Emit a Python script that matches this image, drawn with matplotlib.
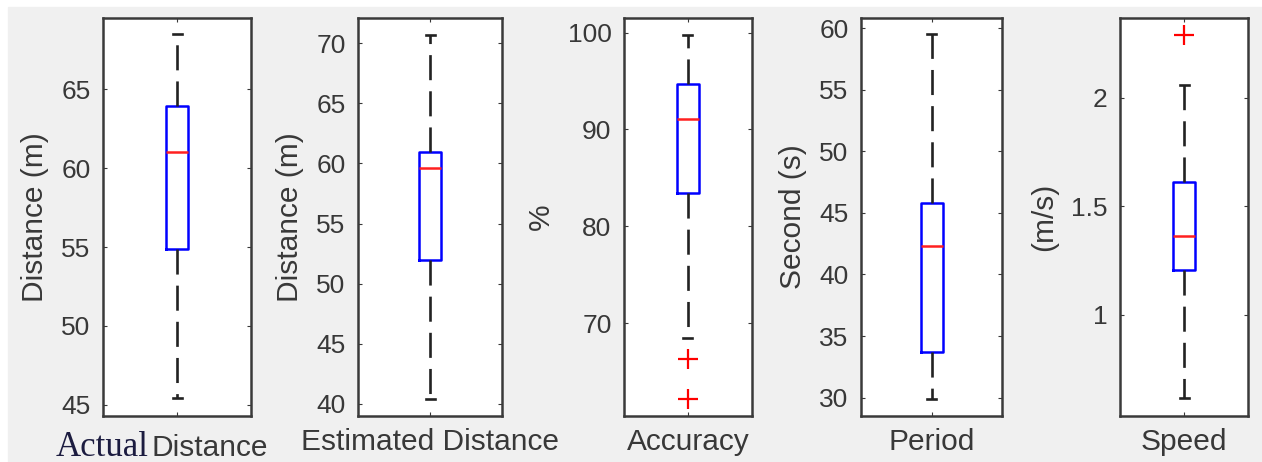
import matplotlib
matplotlib.use("Agg")
import matplotlib.pyplot as plt
from matplotlib.patches import Rectangle

# summary statistics for each measured quantity
categories = ["Distance", "Estimated Distance", "Accuracy", "Period", "Speed"]
ylabels = ["Distance (m)", "Distance (m)", "%", "Second (s)", "(m/s)"]
q1 = [54.9, 52.0, 83.4, 33.7, 1.207]
median = [61.0, 59.6, 91.1, 42.3, 1.365]
q3 = [63.9, 60.95, 94.7, 45.8, 1.613]
whisker_low = [45.45, 40.45, 68.5, 29.9, 0.62]
whisker_high = [68.5, 70.7, 99.7, 59.5, 2.058]
outliers = [[], [], [66.3, 62.2], [], [2.29]]

y_limits = [(44.3, 69.5), (39.0, 72.1), (60.4, 101.5), (28.5, 60.84), (0.535, 2.367)]
y_ticks = [[45, 50, 55, 60, 65], [40, 45, 50, 55, 60, 65, 70],
           [70, 80, 90, 100], [30, 35, 40, 45, 50, 55, 60], [1, 1.5, 2]]
y_ticklabels = [None, None, None, None, ["1", "1.5", "2"]]

plt.rcParams["font.family"] = ["Liberation Sans", "DejaVu Sans"]

W, H = 1262, 462
fig = plt.figure(figsize=(W / 100, H / 100), dpi=100, facecolor="white")
fig.patches.append(Rectangle((8 / W, 0), 1 - 8 / W, (H - 7) / H,
                             transform=fig.transFigure, color="#f0f0f0", zorder=-10))

# axes boxes in pixels: left, width
boxes_px = [(103, 148), (358, 144), (624, 128), (861, 141), (1120, 128)]
top_px, bottom_px = 18, 416

ink = "#383838"
for i, (x0, w) in enumerate(boxes_px):
    ax = fig.add_axes([x0 / W, (H - bottom_px) / H, w / W, (bottom_px - top_px) / H])
    ax.set_facecolor("white")
    stats = [dict(med=median[i], q1=q1[i], q3=q3[i],
                  whislo=whisker_low[i], whishi=whisker_high[i],
                  fliers=outliers[i], label=categories[i])]
    ax.bxp(stats, positions=[1], widths=22 / w, capwidths=9 / w, showfliers=True,
           boxprops=dict(color="#0000ff", linewidth=1.8),
           medianprops=dict(color="#ff2020", linewidth=1.8),
           whiskerprops=dict(color="#222222", linewidth=1.9, linestyle=(0, (9.5, 4.2))),
           capprops=dict(color="#222222", linewidth=1.9),
           flierprops=dict(marker="+", markeredgecolor="#ff0000", markersize=15,
                           markeredgewidth=1.6, linestyle="none"))
    ax.set_xlim(0.5, 1.5)
    ax.set_ylim(*y_limits[i])
    ax.set_yticks(y_ticks[i])
    if y_ticklabels[i] is not None:
        ax.set_yticklabels(y_ticklabels[i])
    ax.set_xticks([1])
    if i == 0:
        ax.set_xticklabels([""])
        ax.text(0.331, -0.1, categories[i], transform=ax.transAxes, ha="left",
                va="baseline", fontsize=21.5, color=ink)
        ax.text(0.31, -0.1, "Actual", transform=ax.transAxes, ha="right",
                va="baseline", fontsize=25, color="#1c1c40",
                family=["Liberation Serif", "DejaVu Serif"])
    else:
        ax.set_xticklabels([categories[i]])
    ax.tick_params(axis="x", direction="in", length=3, top=True, pad=9,
                   labelsize=21.5, labelcolor=ink, color=ink)
    ax.tick_params(axis="y", direction="in", length=3, right=True, pad=9,
                   labelsize=19, labelcolor=ink, color=ink)
    ax.set_ylabel(ylabels[i], fontsize=21.5, color=ink, labelpad=9)
    for s in ax.spines.values():
        s.set_color("#3a3a3a")
        s.set_linewidth(1.8)

fig.savefig("out.png", dpi=100, facecolor=fig.get_facecolor())
